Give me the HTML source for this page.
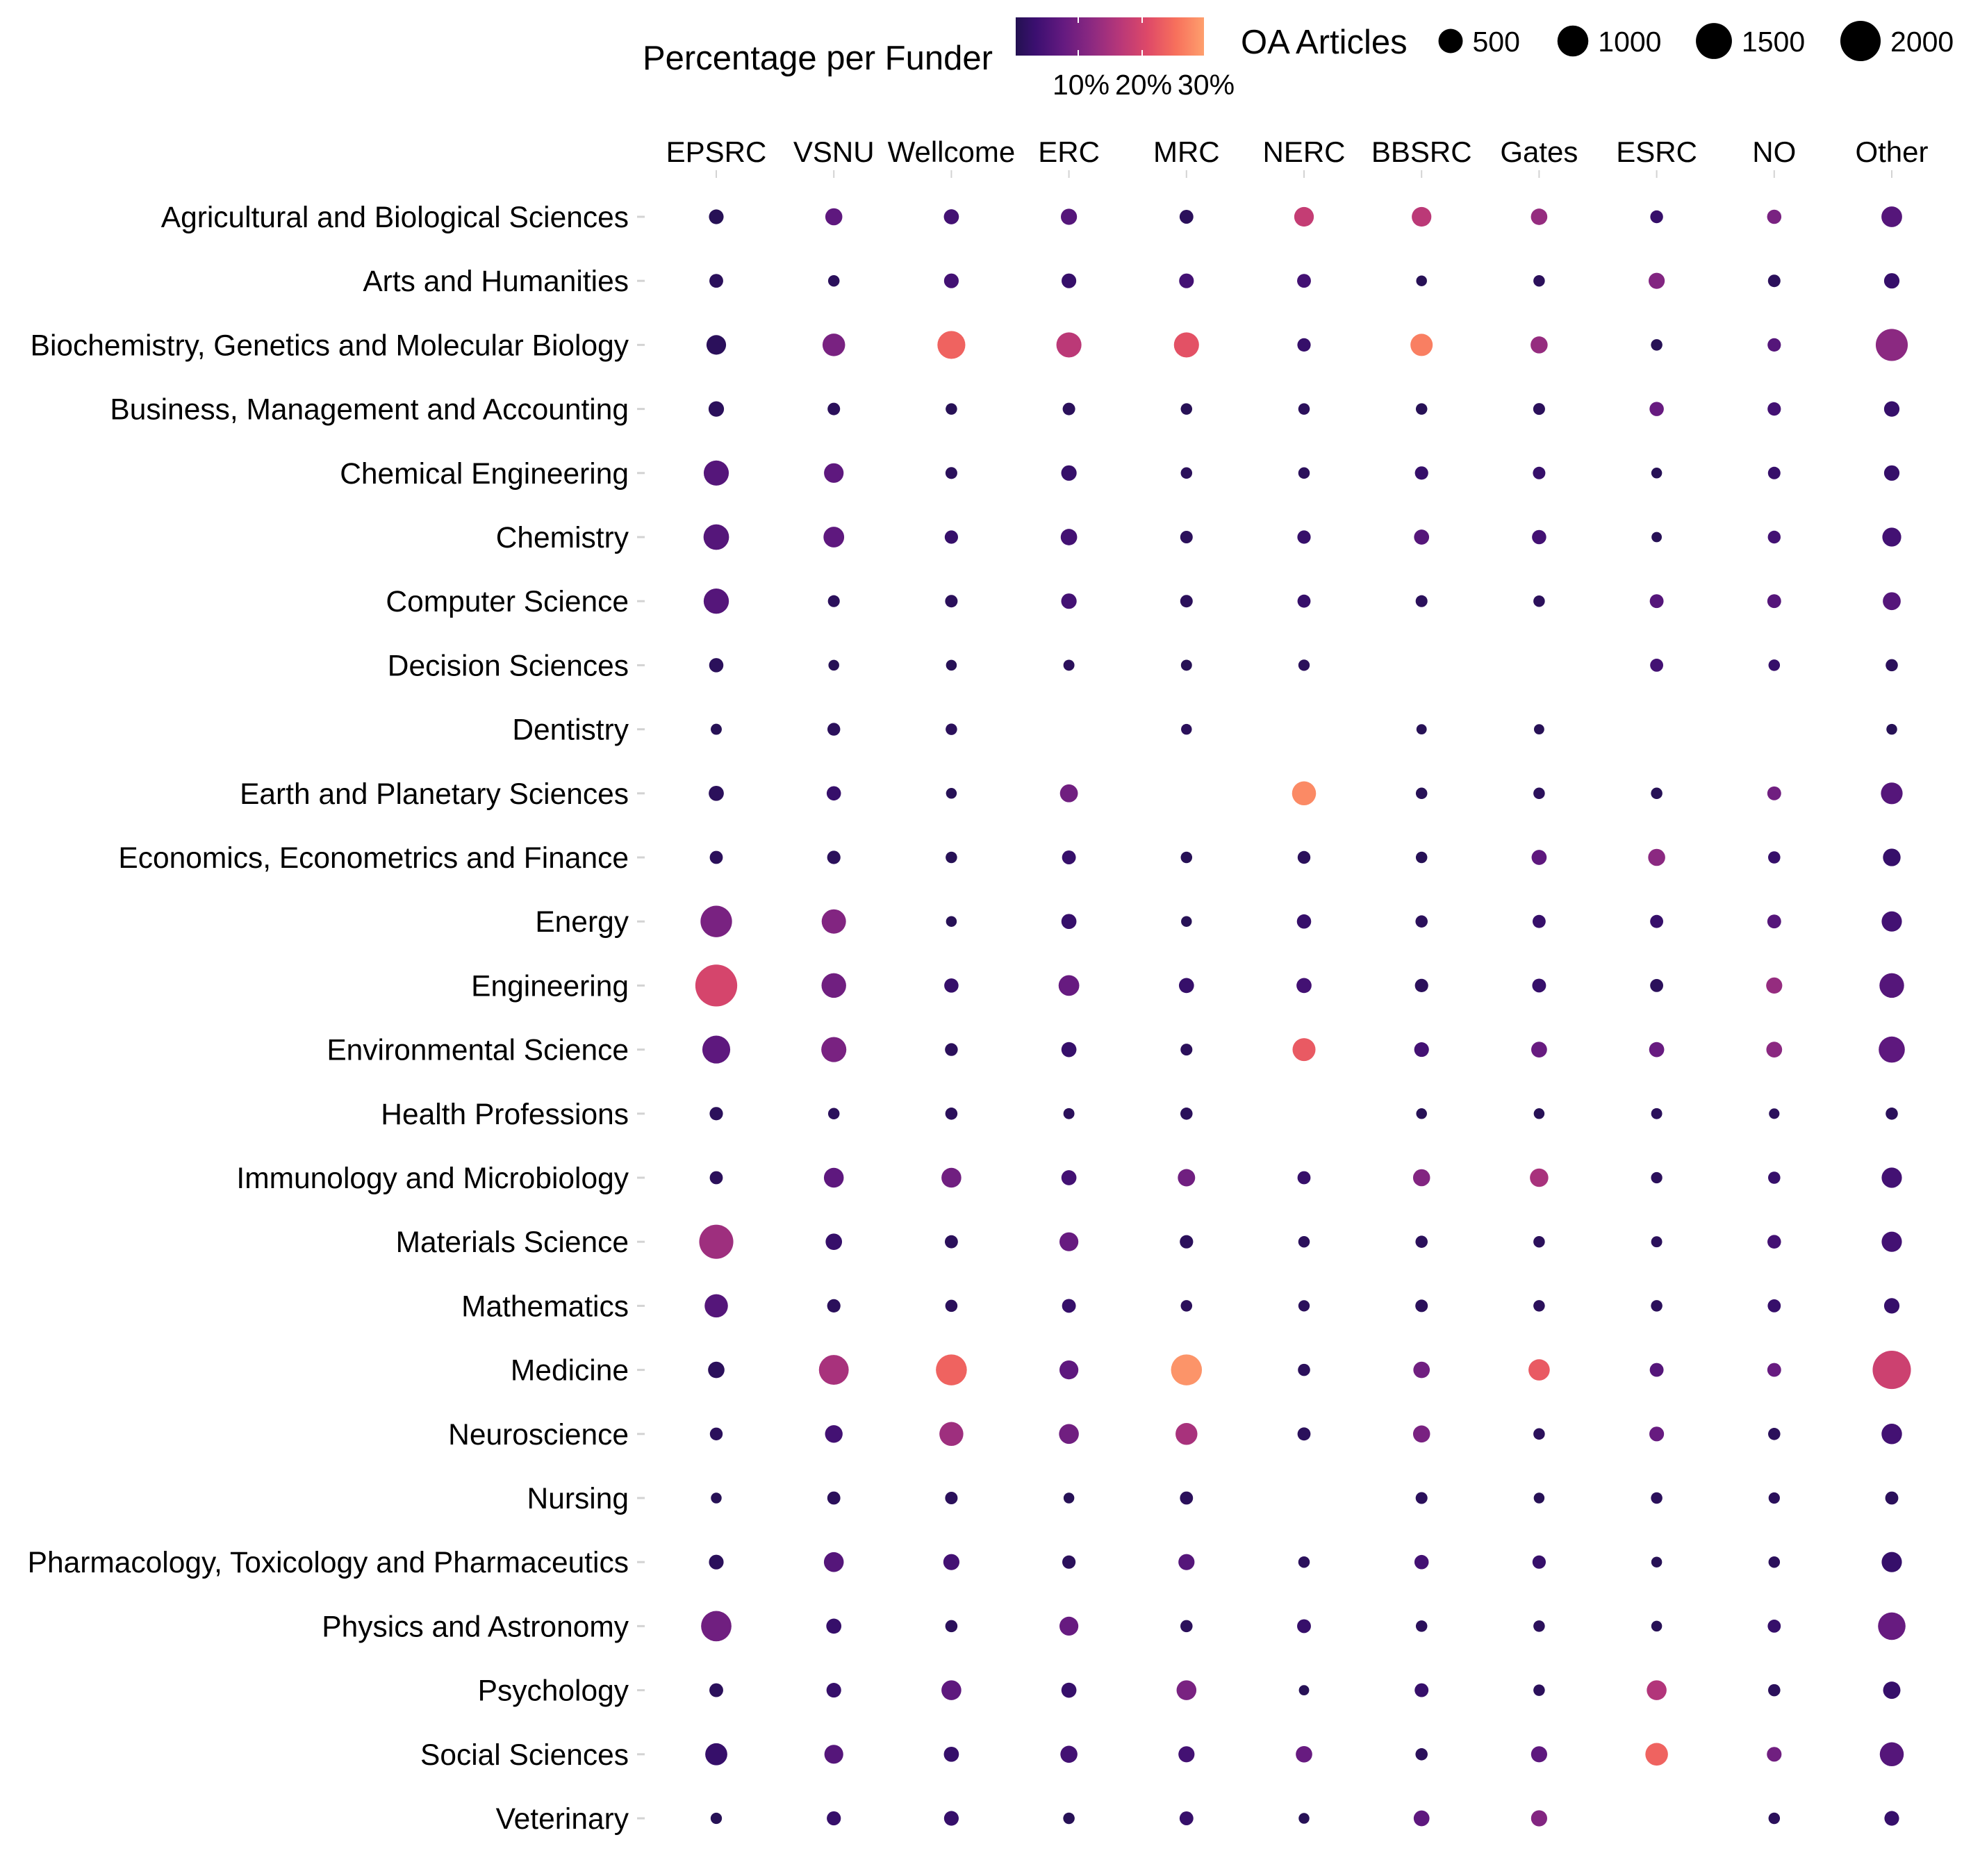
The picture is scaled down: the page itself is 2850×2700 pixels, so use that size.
<!DOCTYPE html>
<html><head><meta charset="utf-8"><style>
html,body{margin:0;padding:0;background:#fff;}
svg{display:block;font-family:"Liberation Sans",Arial,sans-serif;}
</style></head><body>
<svg id="chart" width="2850" height="2700" viewBox="0 0 2850 2700" xmlns="http://www.w3.org/2000/svg">
<defs>
<linearGradient id="magma" x1="0" x2="1" y1="0" y2="0">
<stop offset="0" stop-color="#231151"/><stop offset="0.104" stop-color="#3b0f70"/><stop offset="0.254" stop-color="#641a80"/><stop offset="0.403" stop-color="#8c2981"/><stop offset="0.552" stop-color="#b73779"/><stop offset="0.701" stop-color="#de4968"/><stop offset="0.851" stop-color="#f7705c"/><stop offset="1" stop-color="#fe9f6d"/>
</linearGradient>
</defs>
<g>
<text x="925" y="100" font-size="49">Percentage per Funder</text>
<rect x="1462" y="25" width="271" height="55" fill="url(#magma)"/>
<line x1="1552" y1="25" x2="1552" y2="33" stroke="#fff" stroke-width="2"/><line x1="1552" y1="72" x2="1552" y2="80" stroke="#fff" stroke-width="2"/>
<line x1="1644" y1="25" x2="1644" y2="33" stroke="#fff" stroke-width="2"/><line x1="1644" y1="72" x2="1644" y2="80" stroke="#fff" stroke-width="2"/>
<text x="1556" y="136" font-size="41" text-anchor="middle">10%</text>
<text x="1646" y="136" font-size="41" text-anchor="middle">20%</text>
<text x="1736" y="136" font-size="41" text-anchor="middle">30%</text>
</g>
<g>
<text x="1786" y="77" font-size="49">OA Articles</text>
<g id="sizeLegend"></g>
</g>
<g id="plot"></g>
</svg>
<script>
const funders=["EPSRC","VSNU","Wellcome","ERC","MRC","NERC","BBSRC","Gates","ESRC","NO","Other"];
const subjects=["Agricultural and Biological Sciences","Arts and Humanities","Biochemistry, Genetics and Molecular Biology","Business, Management and Accounting","Chemical Engineering","Chemistry","Computer Science","Decision Sciences","Dentistry","Earth and Planetary Sciences","Economics, Econometrics and Finance","Energy","Engineering","Environmental Science","Health Professions","Immunology and Microbiology","Materials Science","Mathematics","Medicine","Neuroscience","Nursing","Pharmacology, Toxicology and Pharmaceutics","Physics and Astronomy","Psychology","Social Sciences","Veterinary"];
const counts=[
[80,150,90,120,60,250,250,130,40,70,300],
[60,20,80,80,80,60,12,20,120,35,100],
[250,400,750,550,550,50,380,150,20,50,1100],
[100,35,20,35,20,20,20,25,70,50,100],
[550,250,25,100,20,20,50,35,12,35,100],
[580,300,50,130,35,50,90,70,8,40,220],
[560,25,35,100,35,45,25,20,60,60,180],
[70,12,12,15,15,18,null,null,45,20,30],
[15,40,20,null,12,null,8,8,null,null,12],
[90,70,12,180,null,480,20,20,20,60,350],
[45,50,20,60,20,40,20,90,150,30,170],
[1050,500,12,90,12,70,30,45,45,60,280],
[2200,520,70,300,90,90,50,60,45,120,520],
[750,550,40,90,25,420,80,110,90,110,620],
[50,20,30,15,30,null,12,12,15,10,30],
[45,260,260,90,160,45,150,200,18,30,280],
[1300,130,45,220,50,20,30,20,15,55,280],
[440,50,30,60,20,18,35,20,20,45,100],
[130,900,1000,220,1000,30,130,330,60,60,1750],
[40,170,480,260,360,45,150,20,80,30,290],
[12,45,35,12,45,null,25,12,20,18,45],
[80,260,120,50,120,20,70,50,12,20,280],
[950,90,30,220,30,60,20,20,12,45,720],
[60,80,260,90,260,8,60,20,260,30,160],
[370,220,90,150,120,130,30,120,400,80,480],
[18,65,80,20,60,12,110,120,null,20,80]];
const pcts=[
[0.5,7,4,6,1,18,17,13,2.5,10,6],
[1,1,4,2.5,4,4,0.5,1,11,1,2.5],
[1,10,24,17,22,2.5,27,13,0.5,6,12],
[1,1,0.5,1,0.5,1,0.5,1,8,4,2.5],
[6,7,1,2.5,1,1,2.5,2.5,0.5,2.5,2.5],
[6,7,2.5,4,1,2.5,6,4,0.5,4,4],
[6,1,1,4,1,2.5,1,1,6,6,6],
[1,0.5,0.5,1,0.5,1,null,null,4,2.5,1],
[0.5,1,1,null,1,null,0.5,0.5,null,null,0.5],
[1,2.5,0.5,9,null,28,0.5,1,0.5,9,6],
[1,1,0.5,2.5,0.5,1,0.5,7,12,2.5,2.5],
[10,11,0.5,2.5,0.5,2.5,1,2.5,2.5,6,4],
[20,9,2.5,8,2.5,4,1,2.5,1,13,6],
[7,10,1,2.5,1,23,4,8,8,12,7],
[1,1,1,1,1,null,0.5,0.5,1,1,1],
[1,7,9,4,9,2.5,11,15,1,2.5,4],
[14,2.5,1,8,1,1,1,1,1,4,4],
[6,1,1,2.5,1,1,1,1,1,2.5,2.5],
[1,15,24,7,29,1,9,23,6,8,19],
[1,4,14,9,15,1,10,1,8,1,4],
[0.5,1,1,0.5,1,null,1,0.5,1,1,1],
[1,6,4,1,6,1,4,2.5,0.5,1,2.5],
[9,2.5,1,8,1,2.5,1,1,0.5,2.5,8],
[1,2.5,7,2.5,10,0.5,2.5,1,16,1,2.5],
[2.5,6,2.5,4,4,8,1,7,24,9,6],
[0.5,2.5,2.5,0.5,2.5,0.5,7,11,null,1,2.5]];
const legendSizes=[500,1000,1500,2000];

const NS="http://www.w3.org/2000/svg";
function xPos(i){return 1031+i*169.2;}
function yPos(j){return 312+j*92.2;}
function rScale(n){return 5.95+0.516*Math.sqrt(n);}
const stops=[[0,[35,17,81]],[0.104,[59,15,112]],[0.254,[100,26,128]],[0.403,[140,41,129]],[0.552,[183,55,121]],[0.701,[222,73,104]],[0.851,[247,112,92]],[1,[254,159,109]]];
function colorScale(p){let t=Math.max(0,Math.min(1,p/30));
 for(let k=1;k<stops.length;k++){if(t<=stops[k][0]){const a=stops[k-1],b=stops[k];const f=(t-a[0])/(b[0]-a[0]);
  const c=a[1].map((v,i)=>Math.round(v+(b[1][i]-v)*f));return `rgb(${c[0]},${c[1]},${c[2]})`;}}
 return "rgb(254,159,109)";}
function mk(tag,attrs,parent){const e=document.createElementNS(NS,tag);for(const k in attrs)e.setAttribute(k,attrs[k]);parent.appendChild(e);return e;}
const plot=document.getElementById('plot');
funders.forEach((f,i)=>{
 const t=mk('text',{x:xPos(i),y:233,'font-size':42,'text-anchor':'middle'},plot);t.textContent=f;
 
 
 const tk=mk('line',{x1:xPos(i),y1:245,x2:xPos(i),y2:256,stroke:'#d3d3d3','stroke-width':2},plot);
 
 
});
subjects.forEach((s,j)=>{
 const t=mk('text',{x:905,y:yPos(j)+15,'font-size':42.5,'text-anchor':'end'},plot);t.textContent=s;
 
 
 const tk=mk('line',{x1:917,y1:yPos(j),x2:928,y2:yPos(j),stroke:'#d3d3d3','stroke-width':3},plot);
 
 
 funders.forEach((f,i)=>{
  const n=counts[j][i],p=pcts[j][i];if(n==null)return;
  const c=mk('circle',{cx:xPos(i),cy:yPos(j),r:rScale(n).toFixed(2),fill:colorScale(p)},plot);
  
  
 });
});
const sl=document.getElementById('sizeLegend');
const lx=[2088,2264,2467,2678];
legendSizes.forEach((n,k)=>{
 const c=mk('circle',{cx:lx[k],cy:59,r:(rScale(n)).toFixed(2),fill:'#000'},sl);
 
 
 const t=mk('text',{x:lx[k]+rScale(n)+14,y:74,'font-size':41},sl);t.textContent=n;
 
 
});
</script>
</body></html>
